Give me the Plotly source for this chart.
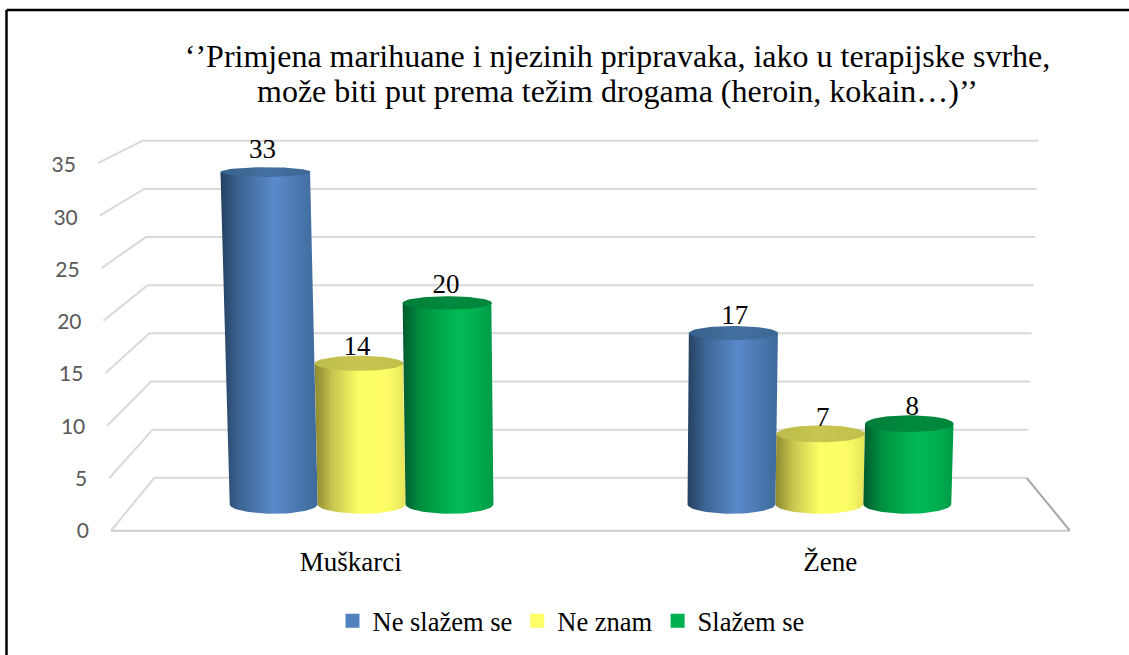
import numpy as np
import plotly.graph_objects as go

categories = ["Muškarci", "Žene"]
series_names = ["Ne slažem se", "Ne znam", "Slažem se"]
values_ne_slazem = [33, 17]
values_ne_znam = [14, 7]
values_slazem = [20, 8]
y_ticks = [0, 5, 10, 15, 20, 25, 30, 35]
title_line_1 = "‘’Primjena marihuane i njezinih pripravaka, iako u terapijske svrhe,"
title_line_2 = "može biti put prema težim drogama (heroin, kokain…)’’"

SERIF = "Liberation Serif"
legend_colors = ["#4F81BD", "#FFFF66", "#00B050"]
body_scales = [
    [[0, "#24405F"], [0.2, "#3D6595"], [0.55, "#5A8ACB"], [0.85, "#4774AA"], [1, "#3E6A9A"]],
    [[0, "#8C8830"], [0.2, "#C9C650"], [0.5, "#FFFF66"], [0.8, "#FDFC66"], [1, "#E6E55C"]],
    [[0, "#005A2C"], [0.2, "#008F40"], [0.6, "#00BB55"], [0.8, "#00B050"], [1, "#009A46"]],
]
cap_scales = [
    [[0, "#36608C"], [0.5, "#44709F"], [1, "#3D6795"]],
    [[0, "#BDBB4A"], [0.5, "#C8C650"], [1, "#C2C04C"]],
    [[0, "#007D38"], [0.5, "#008A3E"], [1, "#00853B"]],
]

# oblique projection from (category position, depth, value) to the axes' own units
W = 0.192      # cylinder diameter, category units
PX_X = 479.5   # px per category unit
PX_Y = 10.51   # px per value unit
LEFT_PX = 30   # left edge of the axes area, px
X_MIN = -0.5 - (111 - LEFT_PX) / PX_X
Y_MIN = -0.5
BOTTOM_PX = 531 - Y_MIN * PX_Y
TOP_PX = 121


def px(u, d, v):
    return 0.5 + (np.asarray(u, float) - 0.5) * (1 - 0.0905 * d) * (1 + 0.00078 * v)


def py(d, v):
    return 53 / PX_Y * d + v * (1 - 0.0837 * d)


def paper_x(p):
    return (p - LEFT_PX) / (1070 - LEFT_PX)


def paper_y(p):
    return (BOTTOM_PX - p) / (BOTTOM_PX - TOP_PX)


fig = go.Figure()

# wall + side gridlines
for v in y_ticks:
    xs = [px(-0.5, 0, v), px(-0.5, 1, v), px(1.5, 1, v)]
    ys = [py(0, v), py(1, v), py(1, v)]
    fig.add_trace(go.Scatter(x=xs, y=ys, mode="lines", line=dict(color="#D9D9D9", width=2),
                             showlegend=False, hoverinfo="skip", cliponaxis=False))
# floor
fig.add_trace(go.Scatter(x=[px(-0.5, 0, 0), px(1.5, 0, 0)], y=[0, 0], mode="lines",
                         line=dict(color="#CCCCCC", width=2), showlegend=False,
                         hoverinfo="skip", cliponaxis=False))
fig.add_trace(go.Scatter(x=[px(1.5, 1, 0), px(1.5, 0, 0)], y=[py(1, 0), 0], mode="lines",
                         line=dict(color="#A6A6A6", width=2), showlegend=False,
                         hoverinfo="skip", cliponaxis=False))

# cylinders
all_values = [values_ne_slazem, values_ne_znam, values_slazem]
t = np.linspace(0, np.pi, 40)
for s, vals in enumerate(all_values):
    for c, v in enumerate(vals):
        u0 = c + (s - 1) * W
        ry_top = 9.5 - 0.14 * v
        ry_bot = 9.5
        half = W / 2
        # body
        bx = px(u0 - half * np.cos(t), 0.5, 0)
        by = py(0.5, 0) - ry_bot / PX_Y * np.sin(t)
        tx = px(u0 + half * np.cos(t), 0.5, v)
        ty = np.full_like(t, py(0.5, v))
        fig.add_trace(go.Scatter(
            x=np.r_[bx, tx, bx[0]], y=np.r_[by, ty, by[0]],
            mode="lines", line=dict(width=0), fill="toself",
            fillgradient=dict(type="horizontal", colorscale=body_scales[s]),
            showlegend=False, hoverinfo="skip", cliponaxis=False))
        # cap
        a = np.linspace(0, 2 * np.pi, 72)
        fig.add_trace(go.Scatter(
            x=px(u0 + half * np.cos(a), 0.5, v),
            y=py(0.5, v) + ry_top / PX_Y * np.sin(a),
            mode="lines", line=dict(width=0), fill="toself",
            fillgradient=dict(type="horizontal", colorscale=cap_scales[s]),
            showlegend=False, hoverinfo="skip", cliponaxis=False))

# value labels
for s, vals in enumerate(all_values):
    us = [c + (s - 1) * W for c in range(len(vals))]
    fig.add_trace(go.Scatter(
        x=[float(px(u, 0.4, v)) for u, v in zip(us, vals)],
        y=[py(0.5, v) + (15 + 0.3 * max(0, v - 14)) / PX_Y for v in vals],
        mode="text", text=[str(v) for v in vals], textposition="middle center",
        textfont=dict(family=SERIF, size=27, color="#000000"),
        showlegend=False, hoverinfo="skip", cliponaxis=False))

# value-axis labels follow the slanted front edge
fig.add_trace(go.Scatter(
    x=[float(px(-0.5, 0, v)) - 22 / PX_X for v in y_ticks],
    y=[v - (2 + v * 0.06) / PX_Y for v in y_ticks],
    mode="text", text=[str(v) for v in y_ticks], textposition="middle left",
    textfont=dict(family="Lato", size=21, color="#595959"),
    showlegend=False, hoverinfo="skip", cliponaxis=False))

# legend
for name, col in zip(series_names, legend_colors):
    fig.add_trace(go.Scatter(x=[None], y=[None], mode="markers", name=name,
                             marker=dict(symbol="square", size=14, color=col)))

fig.update_layout(
    width=1129, height=655, paper_bgcolor="white", plot_bgcolor="white",
    margin=dict(l=LEFT_PX, r=59, t=TOP_PX, b=655 - BOTTOM_PX),
    title=dict(text=title_line_1, x=617.5 / 1129, xanchor="center", y=1 - 56 / 655, yanchor="middle",
               font=dict(family=SERIF, size=32, color="#000000")),
    annotations=[dict(text=title_line_2, xref="paper", yref="paper",
                      x=paper_x(617), y=paper_y(91), xanchor="center", yanchor="middle",
                      showarrow=False, font=dict(family=SERIF, size=32, color="#000000"))],
    xaxis=dict(range=[X_MIN, 1.5], tickmode="array", tickvals=[0, 1], ticktext=categories,
               showgrid=False, zeroline=False, showline=False, ticks="",
               tickfont=dict(family=SERIF, size=27, color="#000000"), ticklabelstandoff=7),
    yaxis=dict(range=[Y_MIN, 39], tickvals=y_ticks, showgrid=False, zeroline=False,
               showline=False, ticks="", showticklabels=False),
    legend=dict(orientation="h", x=571 / 1129, xanchor="center", xref="container",
                y=1 - 621 / 655, yref="container", yanchor="middle",
                font=dict(family=SERIF, size=26.5, color="#000000")),
    shapes=[
        dict(type="line", xref="paper", yref="paper", x0=paper_x(6.5), x1=paper_x(6.5),
             y0=paper_y(10), y1=paper_y(660), line=dict(color="#000000", width=2.5)),
        dict(type="line", xref="paper", yref="paper", x0=paper_x(6.5), x1=paper_x(1135),
             y0=paper_y(10), y1=paper_y(10), line=dict(color="#000000", width=2.5)),
    ],
)

fig.write_html("out.html", config=dict(displayModeBar=False),
               post_script="document.body.style.margin='0';")
